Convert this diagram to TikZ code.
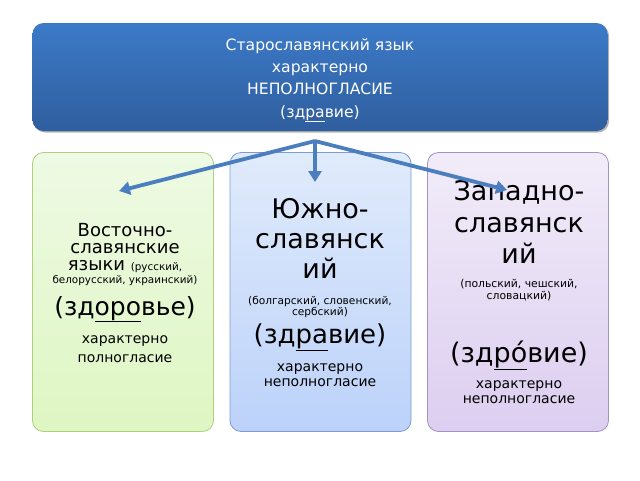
\documentclass[tikz,border=0pt]{standalone}
\usepackage{fontspec}
\setmainfont{DejaVu Sans}
\usetikzlibrary{positioning, arrows.meta}

\definecolor{hdtop}{RGB}{60,122,200}
\definecolor{hdbot}{RGB}{47,94,158}
\definecolor{grtop}{RGB}{238,250,228}
\definecolor{grbot}{RGB}{222,246,194}
\definecolor{grline}{RGB}{176,206,128}
\definecolor{bltop}{RGB}{224,235,251}
\definecolor{blbot}{RGB}{188,210,250}
\definecolor{blline}{RGB}{126,156,204}
\definecolor{vitop}{RGB}{242,236,249}
\definecolor{vibot}{RGB}{220,206,240}
\definecolor{viline}{RGB}{164,146,194}
\definecolor{arrblue}{RGB}{74,126,190}

\newcommand{\fs}[1]{\fontsize{#1}{#1}\selectfont}

\begin{document}
\begin{tikzpicture}[x=1pt, y=-1pt,
    box/.style={rounded corners=11pt, line width=0.8pt, inner sep=0pt},
    lbox/.style={box, minimum width=181pt, minimum height=279pt},
    arr/.style={draw=arrblue, line width=3.8pt, -{Triangle[length=11pt,width=13pt]}},
    txt/.style={anchor=base, inner sep=0pt}]
  \useasboundingbox (0,0) rectangle (640,480);

  % header box
  \node[box, fill=black!30, minimum width=575pt, minimum height=108pt] (shd) at (321.5,78.5) {};
  \node[box, top color=hdtop, bottom color=hdbot, minimum width=575pt, minimum height=108pt] (top) at (320,77) {};
  \node[txt, white] (t1) at (320,50) {\fs{15.6}Старославянский язык};
  \node[txt, white] (t2) at (320,72) {\fs{15.6}характерно};
  \node[txt, white] (t3) at (320,94) {\fs{15.6}НЕПОЛНОГЛАСИЕ};
  \node[txt, white] (t4) at (320,117) {\fs{15.6}(зд\underline{ра}вие)};

  % three boxes
  \node[lbox, draw=grline, top color=grtop, bottom color=grbot] (east) at (123,292) {};
  \node[lbox, draw=blline, top color=bltop, bottom color=blbot] (south) at (320.5,292) {};
  \node[lbox, draw=viline, top color=vitop, bottom color=vibot] (west) at (518,292) {};

  % east
  \node[txt] (e1) at (125,236) {\fs{18}Восточно-};
  \node[txt] (e2) at (125,253) {\fs{18}славянские};
  \node[txt] (e3) at (125,270) {\fs{18}языки \fs{10.4}(русский,};
  \node[txt] (e4) at (125,283) {\fs{10.4}белорусский, украинский)};
  \node[txt] (e5) at (125,315) {\fs{25}(зд\underline{оро}вье)};
  \node[txt] (e6) at (125,343) {\fs{14}характерно};
  \node[txt] (e7) at (125,362) {\fs{14}полногласие};

  % south
  \node[txt] (s1) at (320,218) {\fs{27}Южно-};
  \node[txt] (s2) at (320,248) {\fs{27}славянск};
  \node[txt] (s3) at (320,278) {\fs{27}ий};
  \node[txt] (s4) at (320,304) {\fs{10.6}(болгарский, словенский,};
  \node[txt] (s5) at (320,315) {\fs{10.6}сербский)};
  \node[txt] (s6) at (320,343) {\fs{26}(зд\underline{ра}вие)};
  \node[txt] (s7) at (320,371) {\fs{14}характерно};
  \node[txt] (s8) at (320,386) {\fs{14}неполногласие};

  % west
  \node[txt] (w1) at (519,200) {\fs{27}Западно-};
  \node[txt] (w2) at (519,232) {\fs{27}славянск};
  \node[txt] (w3) at (519,263) {\fs{27}ий};
  \node[txt] (w4) at (519,287) {\fs{10.8}(польский, чешский,};
  \node[txt] (w5) at (519,299) {\fs{10.8}словацкий)};
  \node[txt] (w6) at (519,362) {\fs{27}(зд\underline{рó}вие)};
  \node[txt] (w7) at (519,388) {\fs{14}характерно};
  \node[txt] (w8) at (519,403) {\fs{14}неполногласие};

  % arrows
  \coordinate (hub) at (315,141);
  \coordinate (tipe) at (119,191);
  \coordinate (tips) at (315,182);
  \coordinate (tipw) at (507,190);
  \draw[arr] (hub) -- (tipe);
  \draw[arr] (hub) -- (tips);
  \draw[arr] (hub) -- (tipw);
\end{tikzpicture}
\end{document}
